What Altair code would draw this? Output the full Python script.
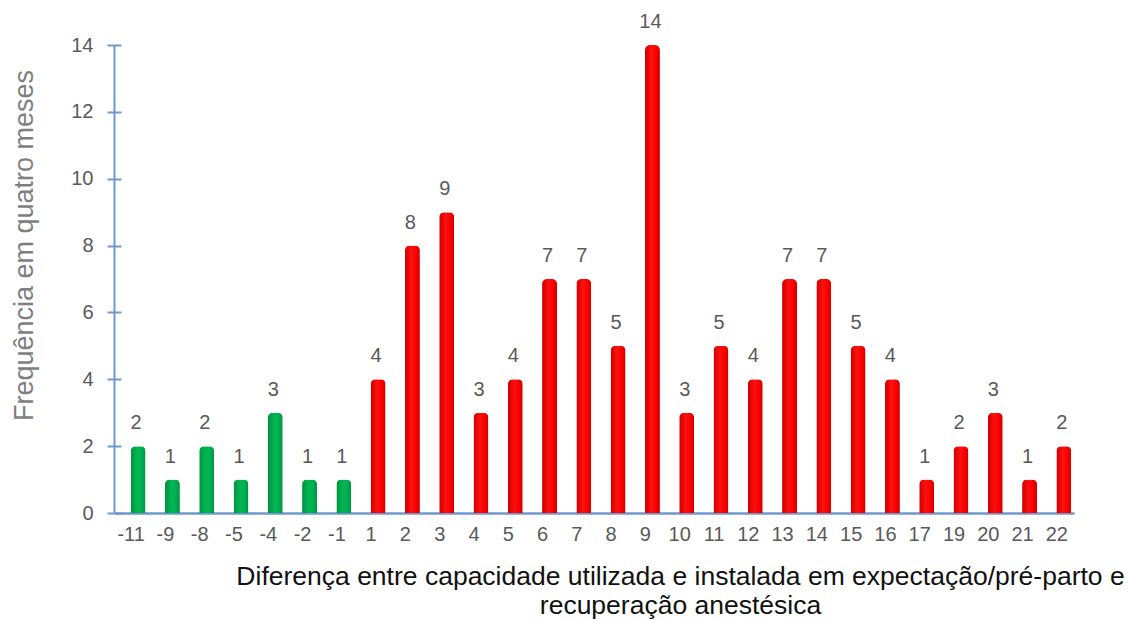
import altair as alt
import pandas as pd

# Difference between used and installed capacity, with its frequency over four months
diferencas = ["-11", "-9", "-8", "-5", "-4", "-2", "-1", "1", "2", "3", "4", "5", "6", "7",
              "8", "9", "10", "11", "12", "13", "14", "15", "16", "17", "19", "20", "21", "22"]
frequencias = [2, 1, 2, 1, 3, 1, 1, 4, 8, 9, 3, 4, 7, 7,
               5, 14, 3, 5, 4, 7, 7, 5, 4, 1, 2, 3, 1, 2]
y_ticks = [0, 2, 4, 6, 8, 10, 12, 14]

df = pd.DataFrame({
    "dif": diferencas,
    "freq": frequencias,
    "grupo": ["neg" if int(d) < 0 else "pos" for d in diferencas],
})

FONT = "Liberation Sans"
AXIS_BLUE = "#6f98cf"

red_grad = alt.Gradient(
    gradient="linear", x1=0, x2=1, y1=0, y2=0,
    stops=[alt.GradientStop(offset=0, color="#cf0000"),
           alt.GradientStop(offset=0.45, color="#ff1010"),
           alt.GradientStop(offset=0.7, color="#ff0000"),
           alt.GradientStop(offset=1, color="#d00000")],
)
green_grad = alt.Gradient(
    gradient="linear", x1=0, x2=1, y1=0, y2=0,
    stops=[alt.GradientStop(offset=0, color="#00913f"),
           alt.GradientStop(offset=0.45, color="#00b653"),
           alt.GradientStop(offset=0.7, color="#00b050"),
           alt.GradientStop(offset=1, color="#009444")],
)

x_enc = alt.X(
    "dif:N", sort=diferencas,
    scale=alt.Scale(paddingInner=0, paddingOuter=0),
    axis=alt.Axis(
        title=["Diferença entre capacidade utilizada e instalada em expectação/pré-parto e",
               "recuperação anestésica"],
        titleFont=FONT, titleFontSize=26.5, titleFontWeight="normal", titleColor="#111111",
        titleLineHeight=29, titleX=566, titleY=50, titleAlign="center", titleBaseline="top",
        labelFont=FONT, labelFontSize=20, labelColor="#595959", labelAngle=0,
        labelPadding=11, ticks=False, tickSize=0,
        domainColor=AXIS_BLUE, domainWidth=2.5, grid=False,
    ),
)

y_scale = alt.Scale(domain=[0, 14], nice=False)

y_main = alt.Y(
    "freq:Q", scale=y_scale,
    axis=alt.Axis(
        orient="left", values=y_ticks,
        title="Frequência em quatro meses",
        titleFont=FONT, titleFontSize=27, titleFontWeight="normal", titleColor="#7f7f7f",
        titleAngle=-90, titleX=-90, titleY=200, titleAlign="center", titleBaseline="middle",
        labelFont=FONT, labelFontSize=20, labelColor="#595959", labelPadding=14,
        tickColor=AXIS_BLUE, tickSize=7, tickWidth=2,
        domainColor=AXIS_BLUE, domainWidth=2, grid=False,
    ),
)

# plain value channel for layers that draw no axis of their own
y_plain = alt.Y("freq:Q", scale=y_scale, axis=None)

# inner half of the crossing tick marks on the value axis
y_inner = alt.Y(
    "freq:Q", scale=y_scale,
    axis=alt.Axis(
        orient="left", values=y_ticks, offset=-7, title=None,
        labels=False, domain=False,
        tickColor=AXIS_BLUE, tickSize=7, tickWidth=2, grid=False,
    ),
)

base = alt.Chart(df)

bars_neg = base.transform_filter(alt.datum.grupo == "neg").mark_bar(
    width=15, xOffset=7, cornerRadiusTopLeft=5, cornerRadiusTopRight=5, color=green_grad
).encode(x=x_enc, y=y_main)

bars_pos = base.transform_filter(alt.datum.grupo == "pos").mark_bar(
    width=15, xOffset=7, cornerRadiusTopLeft=5, cornerRadiusTopRight=5, color=red_grad
).encode(x=x_enc, y=y_plain)

labels = base.mark_text(
    font=FONT, fontSize=20, color="#595959", baseline="alphabetic", dy=-17, xOffset=5
).encode(x=x_enc, y=y_plain, text="freq:Q")

inner_ticks = base.mark_bar(opacity=0).encode(x=x_enc, y=y_inner)

chart = alt.layer(bars_neg, bars_pos, labels, inner_ticks).resolve_axis(
    y="independent"
).resolve_scale(y="shared").properties(
    width=960, height=468,
    background="white",
    autosize=alt.AutoSizeParams(type="none"),
    padding={"left": 114, "top": 45, "right": 61, "bottom": 108},
).configure_view(stroke=None)

chart.save("out.html", embed_options={"renderer": "svg", "actions": False})
